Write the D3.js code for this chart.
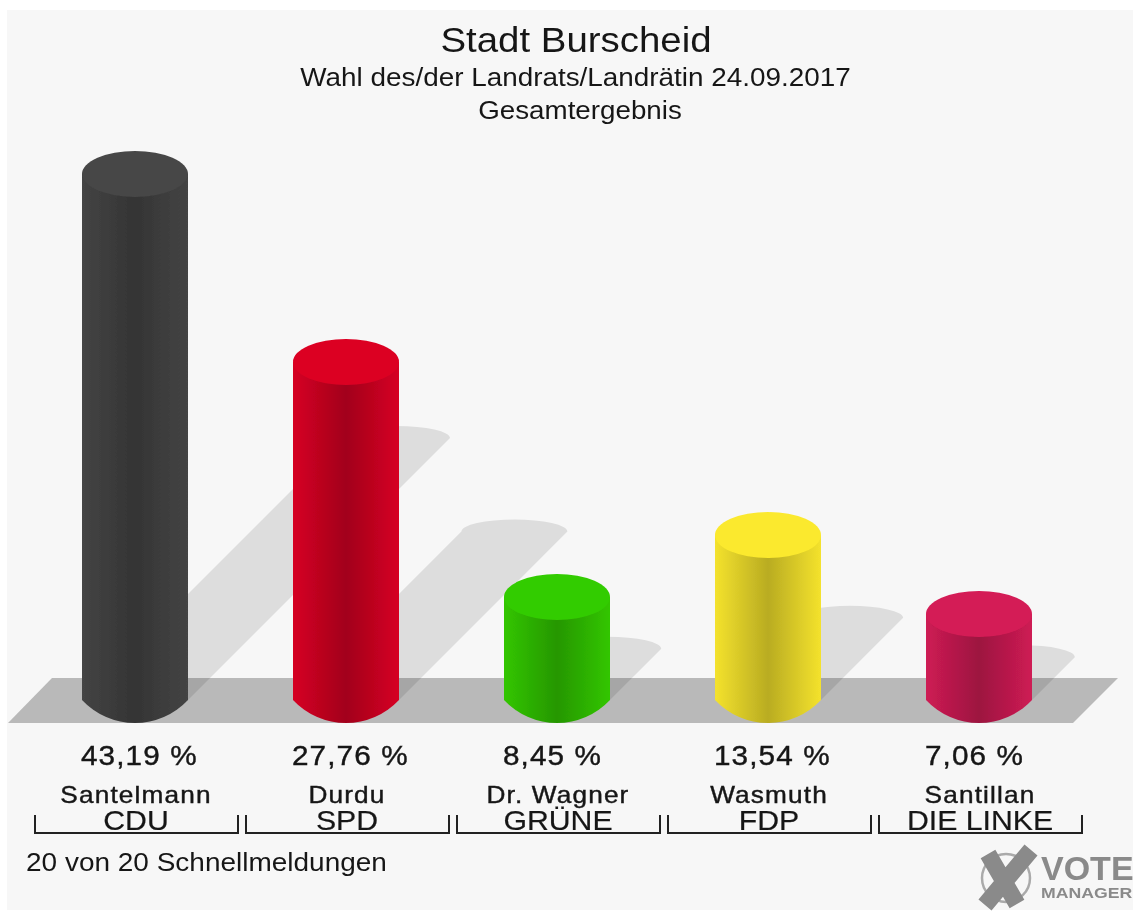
<!DOCTYPE html>
<html lang="de">

<head>
    <meta charset="UTF-8">
    <title>Stadt Burscheid</title>
    <script src="https://d3js.org/d3.v7.min.js"></script>
    <style>
        body { margin: 0; background: #fff; }
        text { font-family: "Liberation Sans", Arial, sans-serif; fill: #161616; }
    </style>
</head>

<body>

    <svg width="1133" height="911"></svg>

    <script>

        // Values
        const parties = ["CDU", "SPD", "GRÜNE", "FDP", "DIE LINKE"];
        const candidates = ["Santelmann", "Durdu", "Dr. Wagner", "Wasmuth", "Santillan"];
        const shares = [43.19, 27.76, 8.45, 13.54, 7.06];
        const shareLabels = ["43,19 %", "27,76 %", "8,45 %", "13,54 %", "7,06 %"];
        const barColors = ["#464646", "#dc0024", "#33cc00", "#fbe92e", "#d41c56"];

        const baseY = 700, rx = 53, ry = 23, shadowRy = 12, footR = 72.6;

        const svg = d3.select("svg");

        const defs = svg.append("defs");
        defs.append("filter").attr("id", "soft")
            .attr("x", "-5%").attr("y", "-5%").attr("width", "110%").attr("height", "110%")
            .append("feGaussianBlur").attr("stdDeviation", 0.6);

        const g = svg.append("g").attr("filter", "url(#soft)");

        // Panel background
        g.append("rect").attr("x", 7).attr("y", 10).attr("width", 1126).attr("height", 900).attr("fill", "#f7f7f7");

        // Scales
        const x = d3.scaleBand().domain(parties).range([29.5, 1084.5]);
        const y = d3.scaleLinear().domain([0, 43.19]).range([baseY, 174]);
        const shadowShift = d3.scaleLinear().domain([0, 43.19]).range([0, 262]);
        const color = d3.scaleOrdinal().domain(parties).range(barColors);
        const cx = p => x(p) + x.bandwidth() / 2;

        const data = parties.map((p, i) => ({
            party: p, candidate: candidates[i], share: shares[i], label: shareLabels[i]
        }));

        // Floor
        g.append("path")
            .attr("d", "M8,723 L52,678 L1118,678 L1073,723 Z")
            .attr("fill", "#b9b9b9");

        // Shadows fall up and to the right at 45 degrees
        g.selectAll(".shadow")
            .data(data)
            .enter()
            .append("path")
            .attr("class", "shadow")
            .attr("fill", "#000")
            .attr("fill-opacity", 0.1)
            .attr("d", d => {
                const s = shadowShift(d.share), c = cx(d.party);
                return `M${c - rx},${baseY} L${c - rx + s},${baseY - s}
                        A${rx},${shadowRy} 0 0 1 ${c + rx + s},${baseY - s}
                        L${c + rx},${baseY} Z`;
            });

        // One horizontal gradient per bar, darkest down the middle
        data.forEach((d, i) => {
            const base = d3.color(color(d.party));
            const grad = defs.append("linearGradient").attr("id", `bar${i}`);
            grad.append("stop").attr("offset", "0%").attr("stop-color", base.darker(0.08));
            grad.append("stop").attr("offset", "50%").attr("stop-color", base.darker(0.85));
            grad.append("stop").attr("offset", "100%").attr("stop-color", base.darker(0.08));
        });

        // Cylinders, the foot is a flatter arc that meets the sides at a corner
        g.selectAll(".side")
            .data(data)
            .enter()
            .append("path")
            .attr("class", "side")
            .attr("fill", (d, i) => `url(#bar${i})`)
            .attr("d", d => {
                const c = cx(d.party), top = y(d.share);
                return `M${c - rx},${top} L${c - rx},${baseY}
                        A${footR},${footR} 0 0 0 ${c + rx},${baseY}
                        L${c + rx},${top} Z`;
            });

        g.selectAll(".cap")
            .data(data)
            .enter()
            .append("ellipse")
            .attr("class", "cap")
            .attr("cx", d => cx(d.party))
            .attr("cy", d => y(d.share))
            .attr("rx", rx)
            .attr("ry", ry)
            .attr("fill", d => color(d.party));

        // Titles, the reference lettering is a bit wider than the font
        const centered = (txt, px, py, size, sx) => g.append("text")
            .attr("transform", `translate(${px},${py}) scale(${sx},1)`)
            .attr("text-anchor", "middle")
            .style("font-size", size + "px")
            .text(txt);

        centered("Stadt Burscheid", 576, 52, 36, 1.067);
        centered("Wahl des/der Landrats/Landrätin 24.09.2017", 575.5, 86, 26, 1.072);
        centered("Gesamtergebnis", 580, 119, 26, 1.068);

        // Labels under each bar
        const labels = (key, py, size, spacing, dx, anchor, weight, sx) => g.selectAll(`.l-${key}`)
            .data(data)
            .enter()
            .append("text")
            .attr("class", `l-${key}`)
            .attr("transform", d => `translate(${cx(d.party) + dx},${py}) scale(${sx},1)`)
            .attr("text-anchor", anchor)
            .attr("stroke", "#161616")
            .attr("stroke-width", weight)
            .style("font-size", size + "px")
            .style("letter-spacing", spacing + "px")
            .text(d => d[key]);

        labels("label", 765, 27, 1, -54, "start", 0.4, 1.1);
        labels("candidate", 803, 23, 1, 1, "middle", 0.4, 1.14);
        labels("party", 830, 28, 0, 1, "middle", 0.2, 1.08);

        // Brackets from the band scale
        g.selectAll(".bracket")
            .data(parties)
            .enter()
            .append("path")
            .attr("class", "bracket")
            .attr("fill", "none")
            .attr("stroke", "#222")
            .attr("stroke-width", 2)
            .attr("d", p => {
                const l = x(p) + 5.5, r = x(p) + 208.5;
                return `M${l},815 V833 H${r} V815`;
            });

        g.append("text")
            .attr("transform", "translate(26,871) scale(1.077,1)")
            .style("font-size", "26px")
            .text("20 von 20 Schnellmeldungen");

        // Logo
        const logo = g.append("g");
        logo.append("ellipse")
            .attr("cx", 1006).attr("cy", 878).attr("rx", 24).attr("ry", 24)
            .attr("fill", "none").attr("stroke", "#aaa").attr("stroke-width", 2.5);
        logo.append("path")
            .attr("d", "M988,854 L1017,904 M1031,850 L985,905")
            .attr("stroke", "#8a8a8a").attr("stroke-width", 17).attr("fill", "none");
        logo.append("text")
            .attr("x", 1041).attr("y", 880)
            .style("font-size", "34px").style("font-weight", "bold").style("fill", "#8a8a8a")
            .text("VOTE");
        logo.append("text")
            .attr("transform", "translate(1041,898) scale(1.14,1)")
            .style("font-size", "15.5px").style("font-weight", "bold").style("fill", "#8a8a8a")
            .text("MANAGER");

    </script>

</body>

</html>
